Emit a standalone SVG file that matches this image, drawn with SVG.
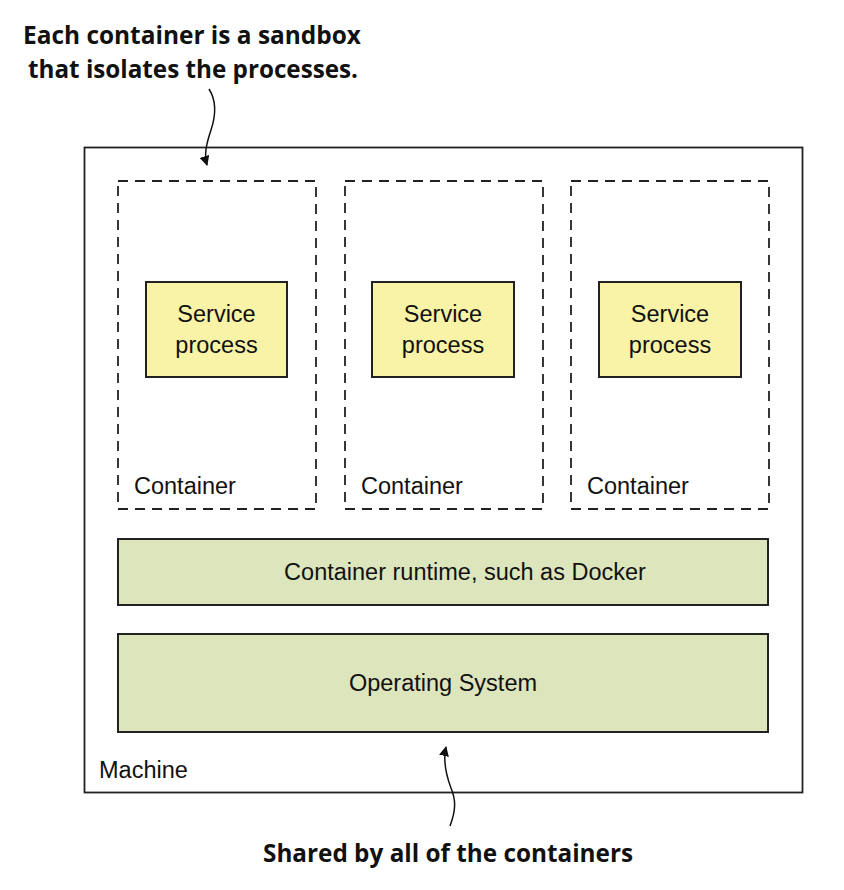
<svg xmlns="http://www.w3.org/2000/svg" width="844" height="890" viewBox="0 0 844 890">
<defs>
<style>
.lbl{font-family:"Liberation Sans",Arial,sans-serif;font-size:23.5px;fill:#111}
.ann{font-family:"Open Sans","Liberation Sans",sans-serif;font-weight:bold;font-size:25.5px;fill:#111}
.cont{fill:none;stroke:#222;stroke-width:1.8;stroke-dasharray:10 7}
.svc{fill:#f8f3a6;stroke:#222;stroke-width:2}
.layer{fill:#dde5bd;stroke:#222;stroke-width:2}
.conn{fill:none;stroke:#111;stroke-width:1.5}
</style>
<marker id="ah" viewBox="0 0 10 10" refX="9" refY="5" markerWidth="10" markerHeight="10" markerUnits="userSpaceOnUse" orient="auto">
<path d="M0,0 L10,5 L0,10 Z" fill="#111"/>
</marker>
</defs>
<rect width="844" height="890" fill="#fff"/>
<g id="machine">
<rect x="84.5" y="147.5" width="718" height="645" fill="#fff" stroke="#222" stroke-width="1.8"/>
<text class="lbl" x="99" y="778">Machine</text>
</g>
<g id="container1">
<rect class="cont" x="118" y="181" width="198" height="328"/>
<text class="lbl" x="134" y="494">Container</text>
</g>
<g id="container2">
<rect class="cont" x="345" y="181" width="198" height="328"/>
<text class="lbl" x="361" y="494">Container</text>
</g>
<g id="container3">
<rect class="cont" x="571" y="181" width="198" height="328"/>
<text class="lbl" x="587" y="494">Container</text>
</g>
<g id="service1">
<rect class="svc" x="146" y="282" width="141" height="95"/>
<text class="lbl" x="216.5" y="322" text-anchor="middle">Service</text>
<text class="lbl" x="216.5" y="353" text-anchor="middle">process</text>
</g>
<g id="service2">
<rect class="svc" x="372" y="282" width="142" height="95"/>
<text class="lbl" x="443" y="322" text-anchor="middle">Service</text>
<text class="lbl" x="443" y="353" text-anchor="middle">process</text>
</g>
<g id="service3">
<rect class="svc" x="599" y="282" width="142" height="95"/>
<text class="lbl" x="670" y="322" text-anchor="middle">Service</text>
<text class="lbl" x="670" y="353" text-anchor="middle">process</text>
</g>
<g id="runtime">
<rect class="layer" x="118" y="539" width="650" height="66"/>
<text class="lbl" x="465" y="580" text-anchor="middle">Container runtime, such as Docker</text>
</g>
<g id="os">
<rect class="layer" x="118" y="634" width="650" height="98"/>
<text class="lbl" x="443" y="691" text-anchor="middle">Operating System</text>
</g>
<g id="note-top">
<text class="ann" x="192" y="44" text-anchor="middle" textLength="338" lengthAdjust="spacingAndGlyphs">Each container is a sandbox</text>
<text class="ann" x="193" y="78" text-anchor="middle" textLength="330" lengthAdjust="spacingAndGlyphs">that isolates the processes.</text>
</g>
<g id="note-bottom">
<text class="ann" x="448" y="862" text-anchor="middle" textLength="370" lengthAdjust="spacingAndGlyphs">Shared by all of the containers</text>
</g>
<g id="connectors">
<path class="conn" d="M209,89 C216,100 216,115 211,130 C206,145 204,155 207,165" marker-end="url(#ah)"/>
<path class="conn" d="M450,826 C456,810 456,800 451,788 C445,772 443,760 446,747" marker-end="url(#ah)"/>
</g>
</svg>
